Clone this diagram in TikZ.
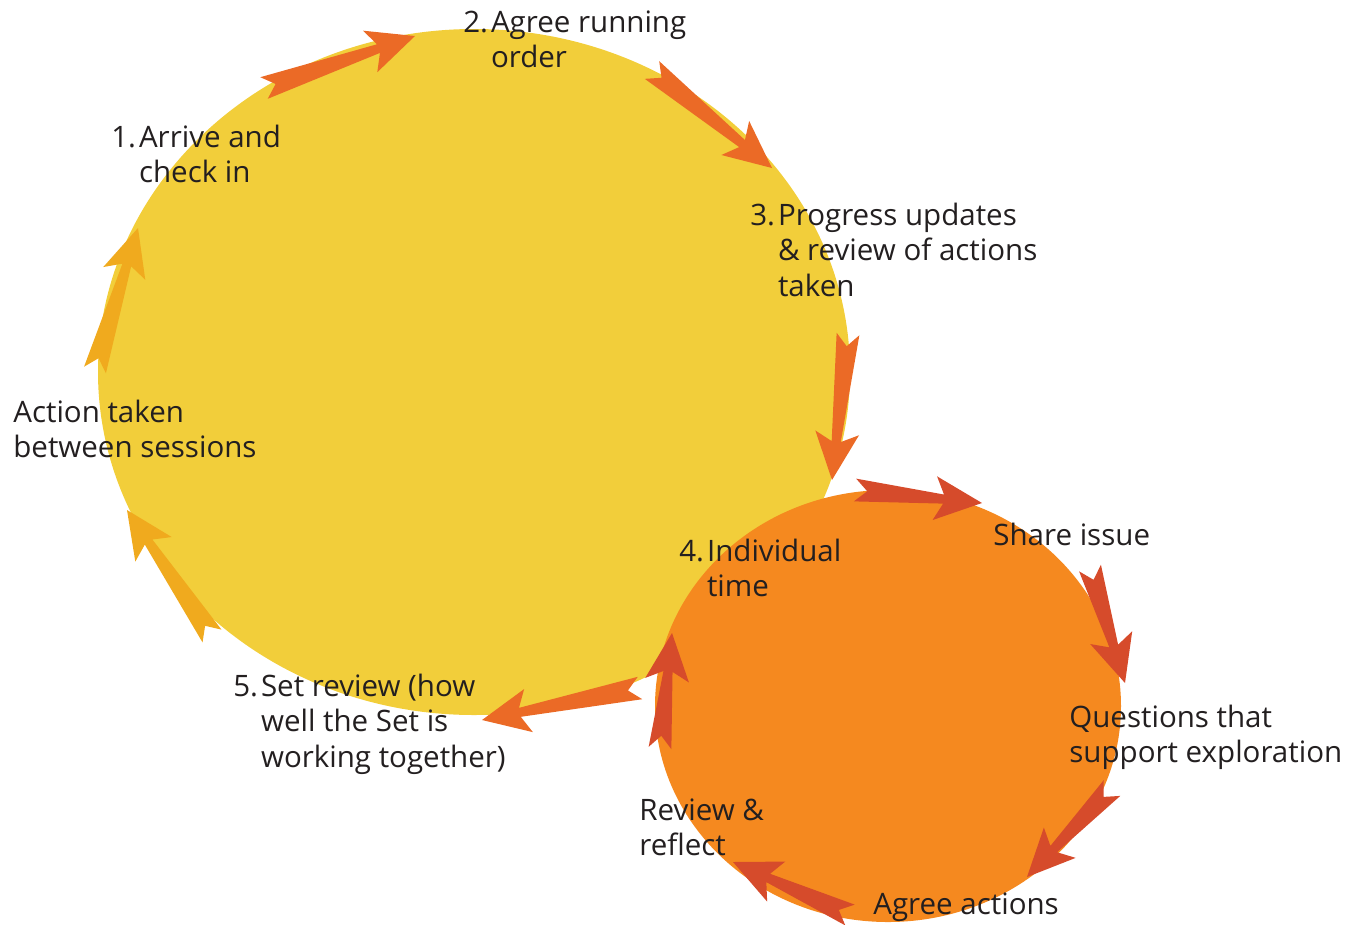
\documentclass[tikz,border=0pt]{standalone}
\usepackage{fontspec}
\setmainfont{Open Sans}
\usetikzlibrary{calc}

\definecolor{setyellow}{HTML}{F2CE3A}
\definecolor{setorange}{HTML}{F5891F}
\definecolor{flowred}{HTML}{EB6A26}
\definecolor{flowdark}{HTML}{D64B2B}
\definecolor{flowgold}{HTML}{F0AA1E}
\definecolor{inktext}{HTML}{231F20}

% tapered arrow: tail, tip, colour
\newcommand{\flowarrow}[3]{%
  \path ($(#2)!22pt!(#1)$) coordinate (fb)
        ($(#2)!27pt!(#1)$) coordinate (fw)
        ($(#1)!7pt!(#2)$)  coordinate (fn);
  \fill[#3] ($(#1)!6.5pt!90:(#2)$) -- ($(fb)!2.6pt!90:(#2)$)
    -- ($(fw)!12.5pt!90:(#2)$) -- (#2) -- ($(fw)!12.5pt!-90:(#2)$)
    -- ($(fb)!2.6pt!-90:(#2)$) -- ($(#1)!6.5pt!-90:(#2)$) -- (fn) -- cycle;
}
\newcommand{\steplabel}[2]{\begin{tabular}[t]{@{}l@{\hspace{0.1em}}l@{}}#1 & #2\end{tabular}}

\begin{document}
\begin{tikzpicture}[
    x=0.02cm, y=-0.02cm,
    lbl/.style={inner sep=0, anchor=base west, text=inktext,
      font=\fontsize{16.8}{20.4}\selectfont}
  ]
  \useasboundingbox (0,0) rectangle (1345,924);

  % the two cycles
  \fill[setyellow] (474,372) ellipse [x radius=376, y radius=343];
  \fill[setorange] (888,706) ellipse [x radius=233, y radius=216];

  % arrow ends
  \coordinate (a1s) at (264,88);   \coordinate (a1e) at (415,36);
  \coordinate (a2s) at (652,70);   \coordinate (a2e) at (772,168);
  \coordinate (a3s) at (848,334);  \coordinate (a3e) at (832,480);
  \coordinate (a4s) at (855,490);  \coordinate (a4e) at (982,503);
  \coordinate (a5s) at (1090,568); \coordinate (a5e) at (1125,683);
  \coordinate (a6s) at (1112,788); \coordinate (a6e) at (1027,877);
  \coordinate (a7s) at (850,915);  \coordinate (a7e) at (733,862);
  \coordinate (a8s) at (660,748);  \coordinate (a8e) at (672,633);
  \coordinate (a9s) at (640,688);  \coordinate (a9e) at (482,720);
  \coordinate (a10s) at (212,636); \coordinate (a10e) at (127,510);
  \coordinate (a11s) at (95,370);  \coordinate (a11e) at (138,228);

  \flowarrow{a1s}{a1e}{flowred}
  \flowarrow{a2s}{a2e}{flowred}
  \flowarrow{a3s}{a3e}{flowred}
  \flowarrow{a4s}{a4e}{flowdark}
  \flowarrow{a5s}{a5e}{flowdark}
  \flowarrow{a6s}{a6e}{flowdark}
  \flowarrow{a7s}{a7e}{flowdark}
  \flowarrow{a8s}{a8e}{flowdark}
  \flowarrow{a9s}{a9e}{flowred}
  \flowarrow{a10s}{a10e}{flowgold}
  \flowarrow{a11s}{a11e}{flowgold}

  % labels
  \node[lbl] (arrive) at (111,147) {\steplabel{1.}{Arrive and\\ & check in}};
  \node[lbl] (agree) at (463,32) {\steplabel{2.}{Agree running\\ & order}};
  \node[lbl] (progress) at (750,225)
    {\steplabel{3.}{Progress updates\\ & \& review of actions\\ & taken}};
  \node[lbl] (individual) at (679,561) {\steplabel{4.}{Individual\\ & time}};
  \node[lbl] (setreview) at (233,696)
    {\steplabel{5.}{Set review (how\\ & well the Set is\\ & working together)}};
  \node[lbl] (between) at (13,422)
    {\begin{tabular}[t]{@{}l@{}}Action taken\\ between sessions\end{tabular}};
  \node[lbl] (share) at (993,545) {Share issue};
  \node[lbl] (questions) at (1069,727)
    {\begin{tabular}[t]{@{}l@{}}Questions that\\ support exploration\end{tabular}};
  \node[lbl] (reflect) at (639,820)
    {\begin{tabular}[t]{@{}l@{}}Review \&\\ reflect\end{tabular}};
  \node[lbl] (actions) at (873,914) {Agree actions};
\end{tikzpicture}
\end{document}
